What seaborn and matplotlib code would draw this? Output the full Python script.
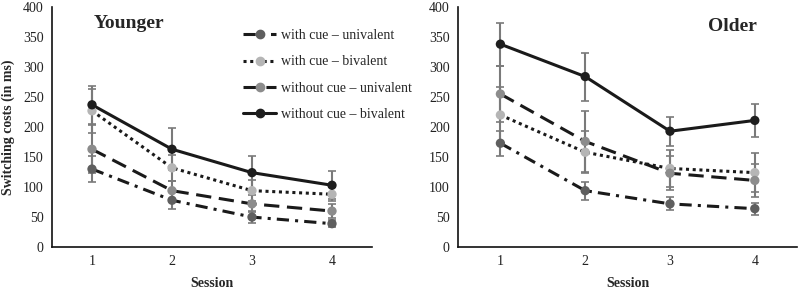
import numpy as np
import pandas as pd
import matplotlib
matplotlib.use("Agg")
import matplotlib.pyplot as plt
import seaborn as sns
from matplotlib.lines import Line2D

sns.set_theme(style="ticks")
plt.rcParams['font.family'] = ['Liberation Serif', 'DejaVu Serif']

sessions = [1, 2, 3, 4]
series = ["with cue – univalent", "with cue – bivalent",
          "without cue – univalent", "without cue – bivalent"]

# Younger group: means and error-bar half-widths
young_cue_uni = [130, 78, 50, 39]
young_cue_bi = [227, 132, 94, 88]
young_nocue_uni = [163, 94, 72, 60]
young_nocue_bi = [237, 163, 124, 103]
young_err_cue_uni = [21, 14, 10, 6]
young_err_cue_bi = [37, 22, 18, 12]
young_err_nocue_uni = [40, 16, 14, 12]
young_err_nocue_bi = [32, 35, 28, 23]

# Older group
old_cue_uni = [173, 94, 72, 64]
old_cue_bi = [220, 158, 131, 124]
old_nocue_uni = [255, 176, 123, 111]
old_nocue_bi = [338, 284, 193, 211]
old_err_cue_uni = [21, 15, 11, 10]
old_err_cue_bi = [46, 35, 31, 32]
old_err_nocue_uni = [46, 51, 28, 27]
old_err_nocue_bi = [36, 40, 24, 28]

groups = {
    "Younger": ([young_cue_uni, young_cue_bi, young_nocue_uni, young_nocue_bi],
                [young_err_cue_uni, young_err_cue_bi, young_err_nocue_uni, young_err_nocue_bi]),
    "Older": ([old_cue_uni, old_cue_bi, old_nocue_uni, old_nocue_bi],
              [old_err_cue_uni, old_err_cue_bi, old_err_nocue_uni, old_err_nocue_bi]),
}

marker_colors = {series[0]: "#5f5f5f", series[1]: "#b5b5b5",
                 series[2]: "#8c8c8c", series[3]: "#1e1e1e"}
dashes = {series[0]: (4, 2, 1, 2), series[1]: (1, 1.2),
          series[2]: (5, 2.5), series[3]: ""}

fig = plt.figure(figsize=(8, 2.89), dpi=100)
ax_y = fig.add_axes([0.065, 0.145, 0.40, 0.831])
ax_o = fig.add_axes([0.5725, 0.145, 0.424, 0.831])

for ax, (name, (means, errs)) in zip([ax_y, ax_o], groups.items()):
    rows = []
    for s, m, e in zip(series, means, errs):
        for sess, mv, ev in zip(sessions, m, e):
            rows.append({"Session": sess, "cost": mv, "err": ev, "series": s})
    df = pd.DataFrame(rows)
    for s in series:
        d = df[df.series == s]
        ax.errorbar(d.Session, d.cost, yerr=d.err, fmt="none", ecolor="#7a7a7a",
                    elinewidth=1.5, capsize=3, capthick=1.2, zorder=1)
    sns.lineplot(data=df, x="Session", y="cost", hue="series", style="series",
                 palette={s: "#1a1a1a" for s in series}, dashes=dashes,
                 linewidth=2.2, ax=ax, legend=False, zorder=2)
    sns.scatterplot(data=df, x="Session", y="cost", hue="series",
                    palette=marker_colors, s=45, edgecolor="none",
                    ax=ax, legend=False, zorder=3)
    ax.set_xlim(0.5, 4.5)
    ax.set_ylim(0, 400)
    ax.set_xticks(sessions)
    ax.set_yticks(range(0, 401, 50))
    ax.tick_params(axis="both", length=0, labelsize=10, pad=6, colors="#222222")
    sns.despine(ax=ax)
    for sp in ["left", "bottom"]:
        ax.spines[sp].set_color("#111111")
        ax.spines[sp].set_linewidth(1.2)
    ax.set_xlabel("Session", fontsize=10, fontweight="bold", labelpad=6)
    ax.set_ylabel("")

ax_y.set_ylabel("Switching costs (in ms)", fontsize=10, fontweight="bold", labelpad=6)
ax_y.text(0.13, 0.93, "Younger", transform=ax_y.transAxes, fontsize=14,
          fontweight="bold", va="center", ha="left")
ax_o.text(0.882, 0.92, "Older", transform=ax_o.transAxes, fontsize=14,
          fontweight="bold", va="center", ha="right")

handles = []
for s in series:
    handles.append(Line2D([], [], color="#1a1a1a", lw=2.2,
                          dashes=dashes[s] if dashes[s] else (None, None),
                          marker="o", markersize=6,
                          markerfacecolor=marker_colors[s],
                          markeredgecolor=marker_colors[s]))
leg = ax_y.legend(handles, series, loc="upper left", bbox_to_anchor=(0.58, 0.93),
                  frameon=False, fontsize=10, handlelength=2.4, handletextpad=0.3,
                  labelspacing=0.95, borderaxespad=0)

fig.savefig("out.png", dpi=100)
